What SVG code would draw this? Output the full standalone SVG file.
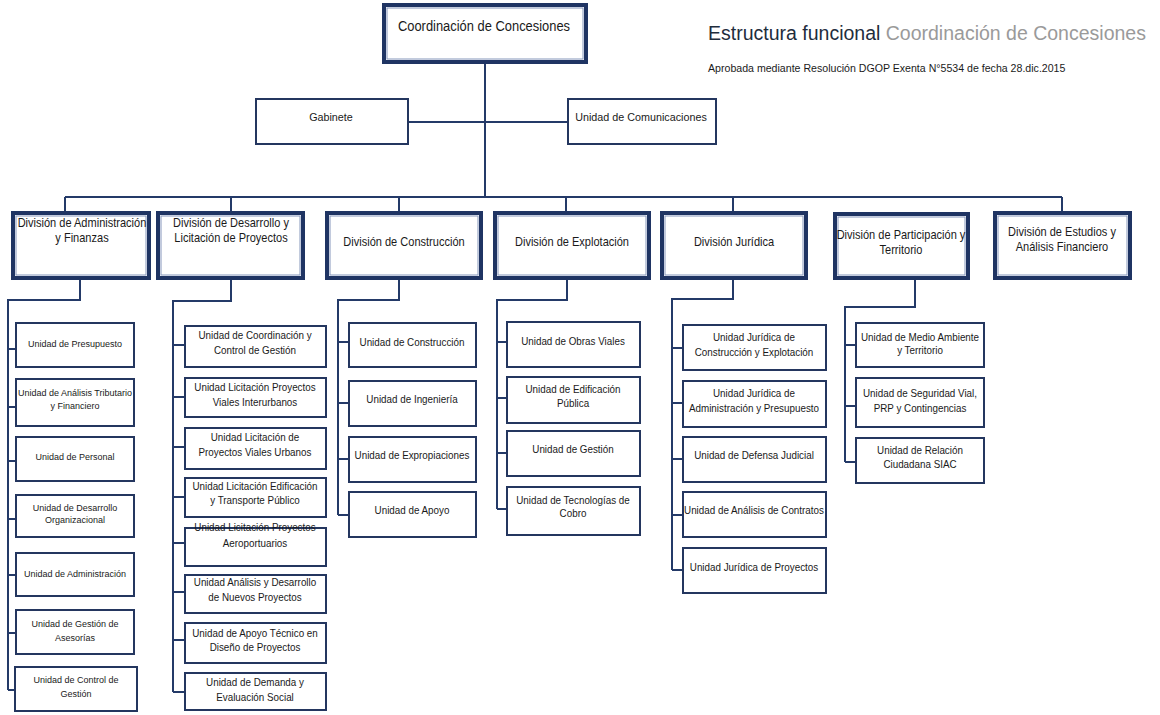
<svg xmlns="http://www.w3.org/2000/svg" width="1160" height="715" viewBox="0 0 1160 715">
<style>
.bg{fill:#fff}
.con path{fill:none;stroke:#243a68;stroke-width:2}
.big .o{fill:#fff;stroke:#1f3463;stroke-width:4}
.big .i{fill:none;stroke:#8596bb;stroke-width:1}
.u rect{fill:#fff;stroke:#24365f;stroke-width:2}
.mid rect{fill:#fff;stroke:#24365f;stroke-width:2}
text{font-family:"Liberation Sans",Arial,sans-serif;fill:#1a1a1a;text-anchor:middle}
.u text,.big text,.mid text{transform-box:fill-box;transform-origin:center;transform:scaleX(0.92)}
.u text{font-size:10.7px}
.c1 text{font-size:9.8px}
.big text{font-size:12px}
.mid text{font-size:11.7px}
.top text{font-size:14.5px;transform:scaleX(0.89)}
.title{font-size:19.5px;text-anchor:start}
.sub{font-size:10.6px;text-anchor:start}
</style>
<rect class="bg" x="0" y="0" width="1160" height="715"/>

<g class="con">
<path d="M485 62V197M408 122H568M65 197H1062M65 197V213M231 197V213M399 197V213M566 197V213M733 197V213M1062 197V213"/>
<path d="M80 278V300H8V690M8 349H16M8 407H16M8 461H16M8 519H16M8 575H16M8 633H16M8 690H15"/>
<path d="M231 278V301H173V692M173 345H185M173 397H185M173 447H185M173 497H185M173 543H185M173 592H185M173 640H185M173 692H185"/>
<path d="M399 278V300H338V515M338 342H349M338 403H349M338 459H349M338 515H349"/>
<path d="M567 278V300H497V509M497 342H507M497 398H507M497 453H507M497 509H507"/>
<path d="M733 278V299H672V570M672 348H683M672 403H683M672 459H683M672 515H683M672 570H683"/>
<path d="M915 278V307H845V462M845 345H856M845 406H856M845 462H856"/>
</g>

<g id="title">
<text class="title" x="708" y="40"><tspan fill="#1f2d3d">Estructura funcional</tspan><tspan fill="#9a9a9a"> Coordinación de Concesiones</tspan></text>
<text class="sub" x="708" y="72">Aprobada mediante Resolución DGOP Exenta N°5534 de fecha 28.dic.2015</text>
</g>

<g id="n-top" class="big top"><rect class="o" x="384" y="5" width="202" height="57"/><rect class="i" x="387" y="8" width="196" height="51"/><text x="484" y="31">Coordinación de Concesiones</text></g>

<g id="n-gabinete" class="mid"><rect x="256" y="99" width="152" height="45"/><text x="331" y="121">Gabinete</text></g>
<g id="n-comunicaciones" class="mid"><rect x="568" y="99" width="148" height="45"/><text x="641" y="121">Unidad de Comunicaciones</text></g>

<g id="d-admin" class="big"><rect class="o" x="13" y="213" width="136" height="65"/><rect class="i" x="16" y="216" width="130" height="59"/><text x="82" y="227">División de Administración</text><text x="82" y="242">y Finanzas</text></g>
<g id="d-desarrollo" class="big"><rect class="o" x="158" y="213" width="145" height="65"/><rect class="i" x="161" y="216" width="139" height="59"/><text x="231" y="227">División de Desarrollo y</text><text x="231" y="242">Licitación de Proyectos</text></g>
<g id="d-construccion" class="big"><rect class="o" x="327" y="213" width="154" height="65"/><rect class="i" x="330" y="216" width="148" height="59"/><text x="404" y="246">División de Construcción</text></g>
<g id="d-explotacion" class="big"><rect class="o" x="495" y="213" width="154" height="65"/><rect class="i" x="498" y="216" width="148" height="59"/><text x="572" y="246">División de Explotación</text></g>
<g id="d-juridica" class="big"><rect class="o" x="662" y="213" width="144" height="65"/><rect class="i" x="665" y="216" width="138" height="59"/><text x="734" y="246">División Jurídica</text></g>
<g id="d-participacion" class="big"><rect class="o" x="835" y="214" width="133" height="64"/><rect class="i" x="838" y="217" width="127" height="58"/><text x="901" y="239">División de Participación y</text><text x="901" y="254">Territorio</text></g>
<g id="d-estudios" class="big"><rect class="o" x="995" y="213" width="135" height="65"/><rect class="i" x="998" y="216" width="129" height="59"/><text x="1062" y="236">División de Estudios y</text><text x="1062" y="251">Análisis Financiero</text></g>

<g id="u1-1" class="u c1"><rect x="16" y="323" width="118" height="44"/><text x="75" y="347">Unidad de Presupuesto</text></g>
<g id="u1-2" class="u c1"><rect x="16" y="379" width="118" height="47"/><text x="75" y="396">Unidad de Análisis Tributario</text><text x="75" y="409">y Financiero</text></g>
<g id="u1-3" class="u c1"><rect x="16" y="437" width="118" height="44"/><text x="75" y="460">Unidad de Personal</text></g>
<g id="u1-4" class="u c1"><rect x="16" y="495" width="118" height="42"/><text x="75" y="511">Unidad de Desarrollo</text><text x="75" y="523">Organizacional</text></g>
<g id="u1-5" class="u c1"><rect x="16" y="553" width="118" height="43"/><text x="75" y="577">Unidad de Administración</text></g>
<g id="u1-6" class="u c1"><rect x="16" y="610" width="118" height="44"/><text x="75" y="627">Unidad de Gestión de</text><text x="75" y="641">Asesorías</text></g>
<g id="u1-7" class="u c1"><rect x="15" y="667" width="122" height="44"/><text x="76" y="683">Unidad de Control de</text><text x="76" y="697">Gestión</text></g>

<g id="u2-1" class="u"><rect x="185" y="326" width="141" height="41"/><text x="255" y="339">Unidad de Coordinación y</text><text x="255" y="354">Control de Gestión</text></g>
<g id="u2-2" class="u"><rect x="185" y="378" width="141" height="39"/><text x="255" y="391">Unidad Licitación Proyectos</text><text x="255" y="406">Viales Interurbanos</text></g>
<g id="u2-3" class="u"><rect x="185" y="428" width="141" height="41"/><text x="255" y="441">Unidad Licitación de</text><text x="255" y="456">Proyectos Viales Urbanos</text></g>
<g id="u2-4" class="u"><rect x="185" y="478" width="141" height="39"/><text x="255" y="490">Unidad Licitación Edificación</text><text x="255" y="504">y Transporte Público</text></g>
<g id="u2-5" class="u"><rect x="185" y="528" width="141" height="38"/><text x="255" y="531">Unidad Licitación Proyectos</text><text x="255" y="547">Aeroportuarios</text></g>
<g id="u2-6" class="u"><rect x="185" y="575" width="141" height="38"/><text x="255" y="586">Unidad Análisis y Desarrollo</text><text x="255" y="601">de Nuevos Proyectos</text></g>
<g id="u2-7" class="u"><rect x="185" y="623" width="141" height="40"/><text x="255" y="637">Unidad de Apoyo Técnico en</text><text x="255" y="651">Diseño de Proyectos</text></g>
<g id="u2-8" class="u"><rect x="185" y="673" width="141" height="37"/><text x="255" y="686">Unidad de Demanda y</text><text x="255" y="701">Evaluación Social</text></g>

<g id="u3-1" class="u"><rect x="349" y="323" width="127" height="44"/><text x="412" y="346">Unidad de Construcción</text></g>
<g id="u3-2" class="u"><rect x="349" y="381" width="127" height="45"/><text x="412" y="403">Unidad de Ingeniería</text></g>
<g id="u3-3" class="u"><rect x="349" y="437" width="127" height="45"/><text x="412" y="459">Unidad de Expropiaciones</text></g>
<g id="u3-4" class="u"><rect x="349" y="492" width="127" height="45"/><text x="412" y="514">Unidad de Apoyo</text></g>

<g id="u4-1" class="u"><rect x="507" y="322" width="133" height="45"/><text x="573" y="345">Unidad de Obras Viales</text></g>
<g id="u4-2" class="u"><rect x="507" y="377" width="133" height="46"/><text x="573" y="393">Unidad de Edificación</text><text x="573" y="407">Pública</text></g>
<g id="u4-3" class="u"><rect x="507" y="431" width="133" height="45"/><text x="573" y="453">Unidad de Gestión</text></g>
<g id="u4-4" class="u"><rect x="507" y="487" width="133" height="48"/><text x="573" y="504">Unidad de Tecnologías de</text><text x="573" y="517">Cobro</text></g>

<g id="u5-1" class="u"><rect x="683" y="325" width="143" height="45"/><text x="754" y="341">Unidad Jurídica de</text><text x="754" y="356">Construcción y Explotación</text></g>
<g id="u5-2" class="u"><rect x="683" y="381" width="143" height="46"/><text x="754" y="397">Unidad Jurídica de</text><text x="754" y="412">Administración y Presupuesto</text></g>
<g id="u5-3" class="u"><rect x="683" y="437" width="143" height="45"/><text x="754" y="459">Unidad de Defensa Judicial</text></g>
<g id="u5-4" class="u"><rect x="683" y="492" width="143" height="45"/><text x="754" y="514">Unidad de Análisis de Contratos</text></g>
<g id="u5-5" class="u"><rect x="683" y="548" width="143" height="45"/><text x="754" y="571">Unidad Jurídica de Proyectos</text></g>

<g id="u6-1" class="u"><rect x="856" y="323" width="128" height="44"/><text x="920" y="341">Unidad de Medio Ambiente</text><text x="920" y="354">y Territorio</text></g>
<g id="u6-2" class="u"><rect x="856" y="378" width="128" height="49"/><text x="920" y="397">Unidad de Seguridad Vial,</text><text x="920" y="412">PRP y Contingencias</text></g>
<g id="u6-3" class="u"><rect x="856" y="438" width="128" height="45"/><text x="920" y="454">Unidad de Relación</text><text x="920" y="468">Ciudadana SIAC</text></g>
</svg>
